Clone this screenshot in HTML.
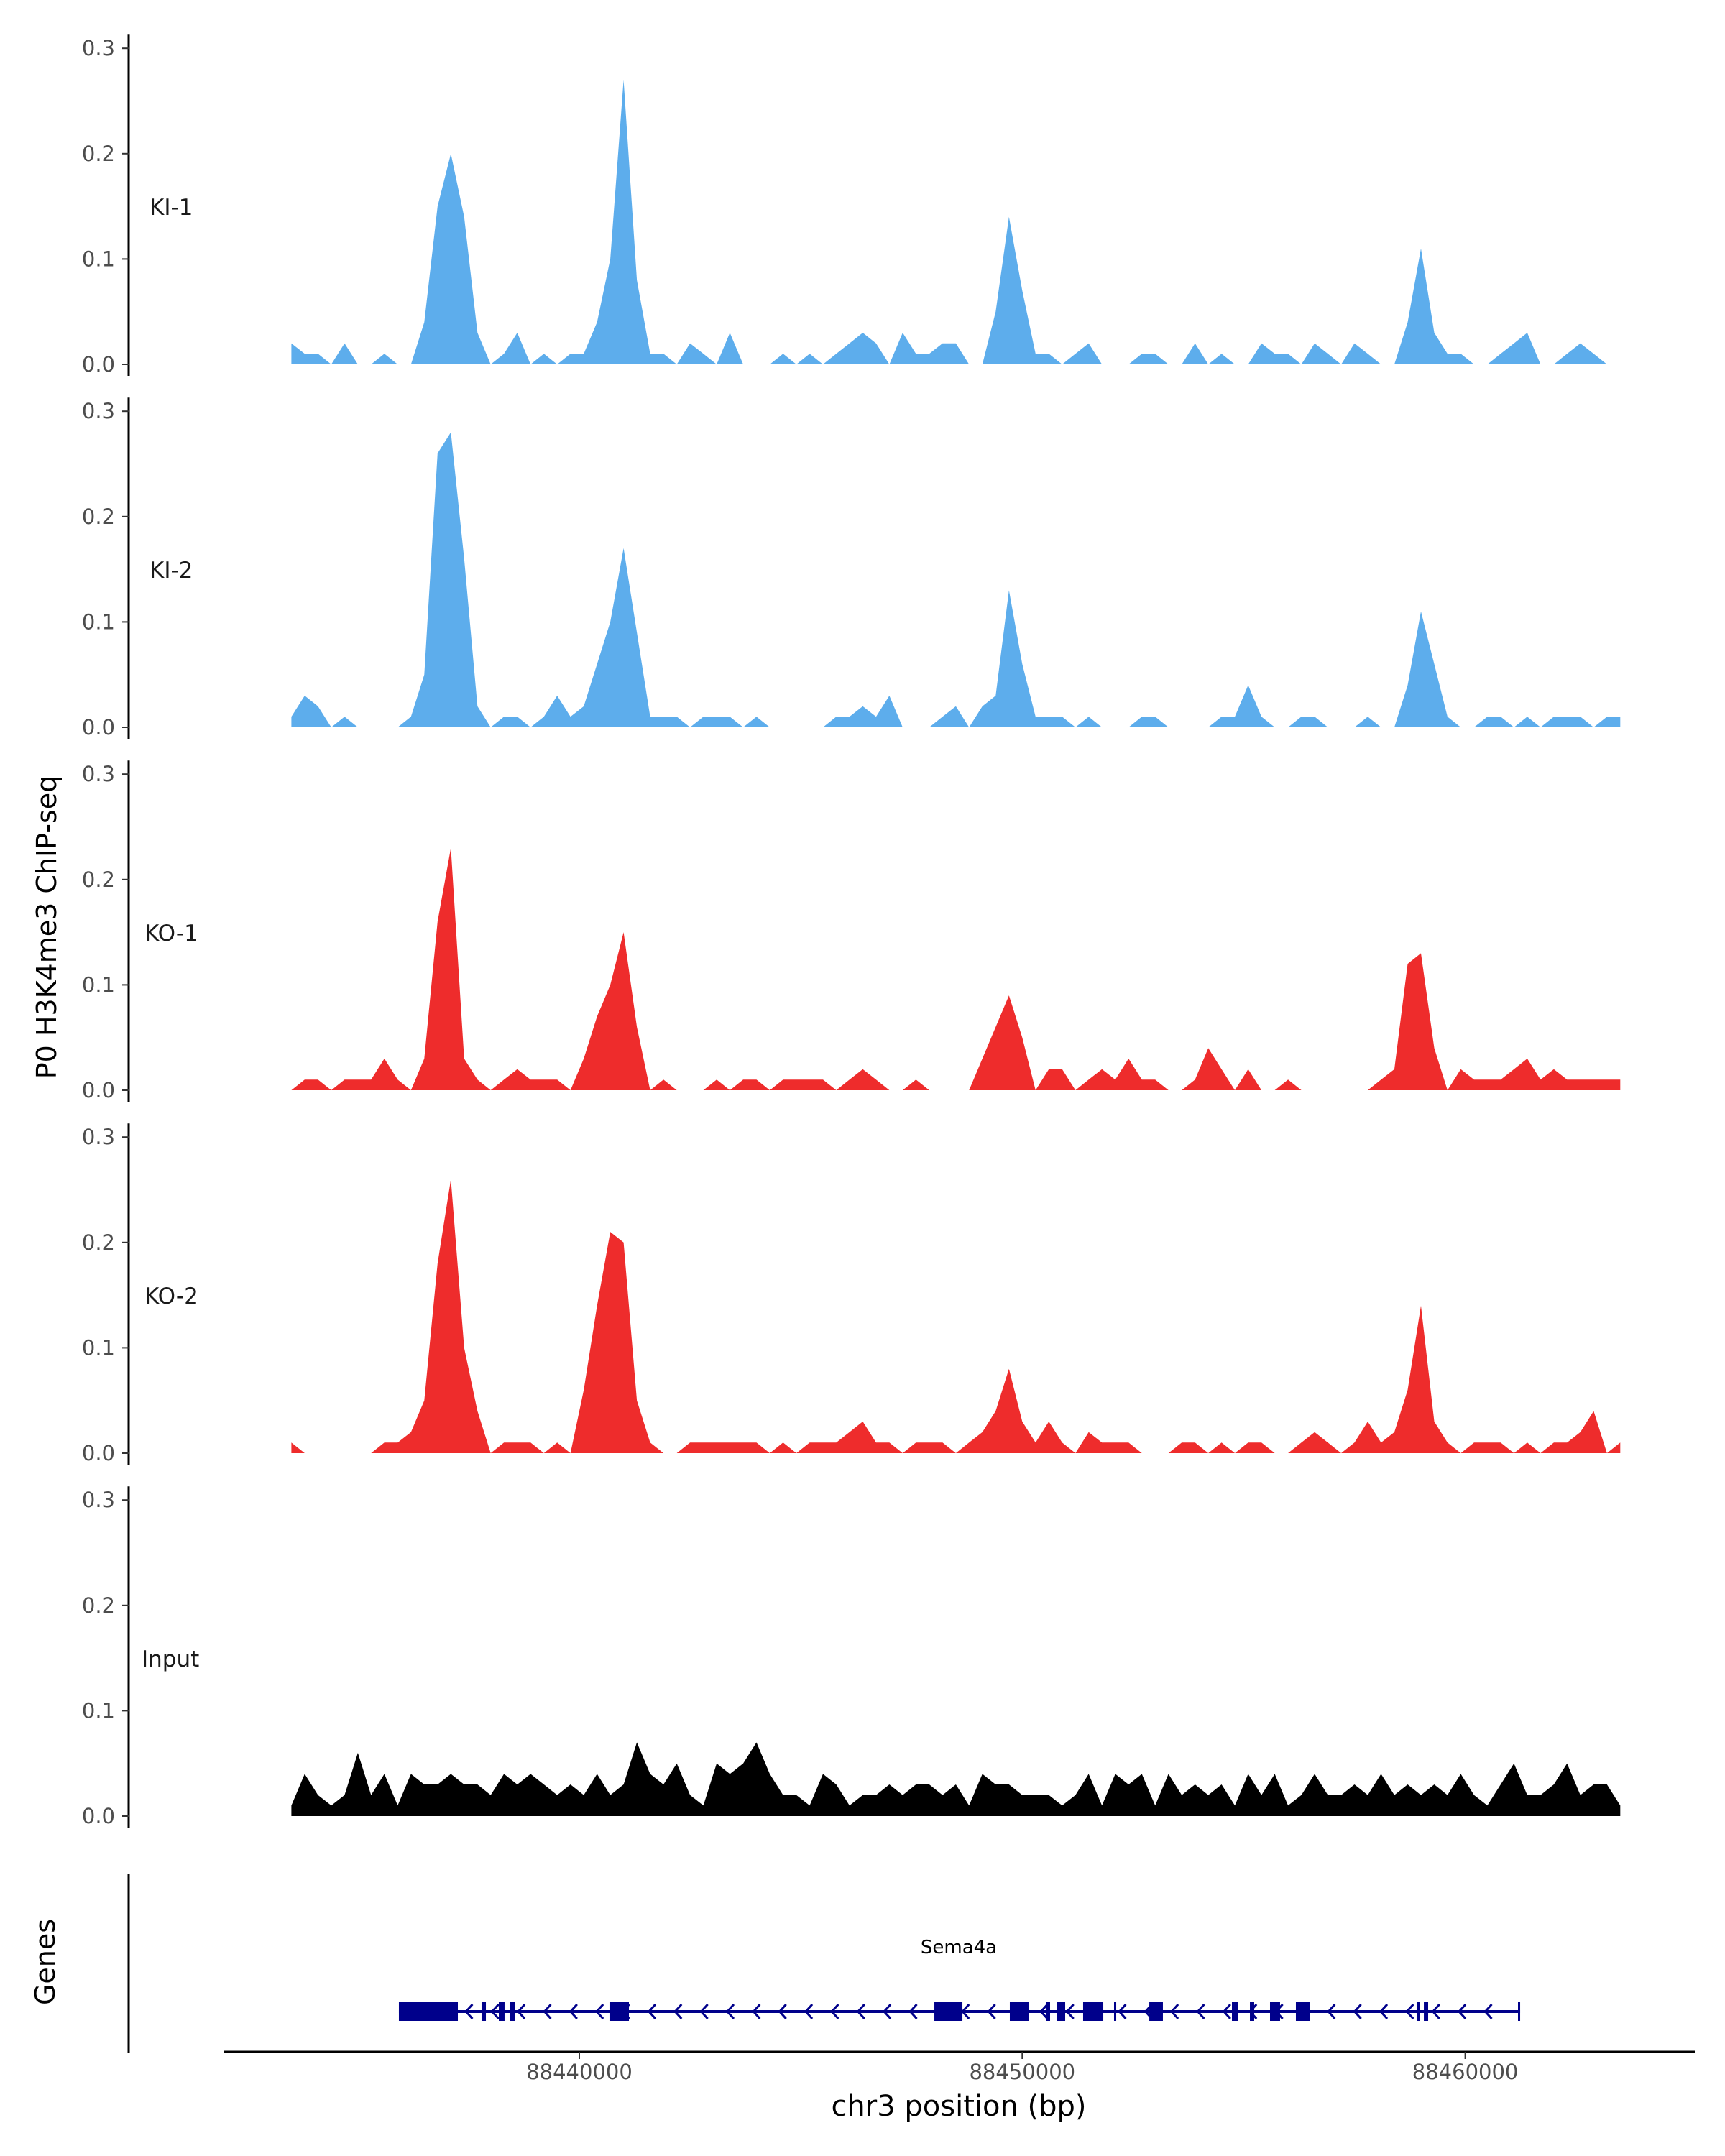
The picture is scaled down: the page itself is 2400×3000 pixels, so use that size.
<!DOCTYPE html>
<html><head><meta charset="utf-8">
<style>
html,body{margin:0;padding:0;background:#fff;}
svg{display:block;font-family:"DejaVu Sans","Liberation Sans",sans-serif;}
</style></head>
<body>
<svg id="chart" width="2400" height="3000" viewBox="0 0 2400 3000" xmlns="http://www.w3.org/2000/svg">
<rect width="2400" height="3000" fill="#fff"/>
<text x="0" y="0" transform="translate(78,1290) rotate(-90)" font-size="38" text-anchor="middle" fill="#000">P0 H3K4me3 ChIP-seq</text>
<text x="0" y="0" transform="translate(76,2730) rotate(-90)" font-size="38" text-anchor="middle" fill="#000">Genes</text>
<line x1="179" y1="2607" x2="179" y2="2856" stroke="#000" stroke-width="3"/>
<line x1="311" y1="2855" x2="2358" y2="2855" stroke="#000" stroke-width="3"/>
<text x="1334" y="2944" font-size="40" text-anchor="middle" fill="#000">chr3 position (bp)</text>
<g id="tracks"></g>
<g id="genes"></g>
<g id="xaxis"></g>
</svg>
<script>
const trackNames = ["KI-1","KI-2","KO-1","KO-2","Input"];
const trackColors = ["#5DADEC","#5DADEC","#EE2C2C","#EE2C2C","#000000"];
const startBp = 88433500;
const stepBp = 300;
const yTicks = [0,0.1,0.2,0.3];
const yTickLabels = ["0.0","0.1","0.2","0.3"];
const xTicks = [88440000,88450000,88460000];
const xTickLabels = ["88440000","88450000","88460000"];
// values in units of 0.01
const ki1 = [2,1,1,0,2,0,0,1,0,0,4,15,20,14,3,0,1,3,0,1,0,1,1,4,10,27,8,1,1,0,2,1,0,3,0,0,0,1,0,1,0,1,2,3,2,0,3,1,1,2,2,0,0,5,14,7,1,1,0,1,2,0,0,0,1,1,0,0,2,0,1,0,0,2,1,1,0,2,1,0,2,1,0,0,4,11,3,1,1,0,0,1,2,3,0,0,1,2,1,0,0];
const ki2 = [1,3,2,0,1,0,0,0,0,1,5,26,28,16,2,0,1,1,0,1,3,1,2,6,10,17,9,1,1,1,0,1,1,1,0,1,0,0,0,0,0,1,1,2,1,3,0,0,0,1,2,0,2,3,13,6,1,1,1,0,1,0,0,0,1,1,0,0,0,0,1,1,4,1,0,0,1,1,0,0,0,1,0,0,4,11,6,1,0,0,1,1,0,1,0,1,1,1,0,1,1];
const ko1 = [0,1,1,0,1,1,1,3,1,0,3,16,23,3,1,0,1,2,1,1,1,0,3,7,10,15,6,0,1,0,0,0,1,0,1,1,0,1,1,1,1,0,1,2,1,0,0,1,0,0,0,0,3,6,9,5,0,2,2,0,1,2,1,3,1,1,0,0,1,4,2,0,2,0,0,1,0,0,0,0,0,0,1,2,12,13,4,0,2,1,1,1,2,3,1,2,1,1,1,1,1];
const ko2 = [1,0,0,0,0,0,0,1,1,2,5,18,26,10,4,0,1,1,1,0,1,0,6,14,21,20,5,1,0,0,1,1,1,1,1,1,0,1,0,1,1,1,2,3,1,1,0,1,1,1,0,1,2,4,8,3,1,3,1,0,2,1,1,1,0,0,0,1,1,0,1,0,1,1,0,0,1,2,1,0,1,3,1,2,6,14,3,1,0,1,1,1,0,1,0,1,1,2,4,0,1];
const input = [1,4,2,1,2,6,2,4,1,4,3,3,4,3,3,2,4,3,4,3,2,3,2,4,2,3,7,4,3,5,2,1,5,4,5,7,4,2,2,1,4,3,1,2,2,3,2,3,3,2,3,1,4,3,3,2,2,2,1,2,4,1,4,3,4,1,4,2,3,2,3,1,4,2,4,1,2,4,2,2,3,2,4,2,3,2,3,2,4,2,1,3,5,2,2,3,5,2,3,3,1];
const series = [ki1,ki2,ko1,ko2,input];
const exonStarts = [88435927,88437793,88438183,88438426,88440681,88448016,88449719,88450547,88450774,88451374,88452072,88452868,88454733,88455139,88455593,88456177,88458903,88459066,88461191];
const exonEnds   = [88437258,88437891,88438312,88438540,88441120,88448649,88450141,88450628,88450969,88451829,88452121,88453175,88454879,88455236,88455820,88456486,88458984,88459163,88461240];
const geneStart = 88435927, geneEnd = 88461240;

const NS = "http://www.w3.org/2000/svg";
function xScale(bp){ return 806 + (bp - 88440000) * 0.06163; }
function yScale(k, v){ return 507 + k*505 - v * 1466; }
function mk(tag, attrs, parent){ const e = document.createElementNS(NS, tag); for (const a in attrs) e.setAttribute(a, attrs[a]); parent.appendChild(e); return e; }

const tracks = document.getElementById("tracks");
series.forEach((vals, k) => {
  const g = mk("g", {}, tracks);
  
  
  const ax = mk("line", {x1:179, y1:yScale(k,0.3)-19, x2:179, y2:yScale(k,0)+16, stroke:"#000","stroke-width":3}, g);
  
  
  yTicks.forEach((t, j) => {
    const y = yScale(k, t);
    const tk = mk("line", {x1:170, y1:y, x2:179, y2:y, stroke:"#333","stroke-width":2}, g);
    
    
    const tl = mk("text", {x:160, y:y+10, "font-size":29, "text-anchor":"end", fill:"#4d4d4d"}, g);
    tl.textContent = yTickLabels[j];
    
    
  });
  const lbl = mk("text", {x: k===4 ? 197 : (k>=2 ? 201 : 208), y: yScale(k,0) - 208, "font-size":31, fill:"#1a1a1a"}, g);
  lbl.textContent = trackNames[k];
  
  
  let d = "M" + xScale(startBp) + "," + yScale(k,0);
  vals.forEach((v, i) => { d += " L" + xScale(startBp + i*stepBp).toFixed(1) + "," + yScale(k, v/100).toFixed(1); });
  d += " L" + xScale(startBp + (vals.length-1)*stepBp).toFixed(1) + "," + yScale(k,0) + " Z";
  const area = mk("path", {d:d, fill:trackColors[k]}, g);
  
  
});

const genes = document.getElementById("genes");
const gy = 2799;
const gl = mk("line", {x1:xScale(geneStart), y1:gy, x2:xScale(geneEnd), y2:gy, stroke:"#00008B","stroke-width":4}, genes);


for (let bp = geneStart + 400; bp < geneEnd - 200; bp += 590) {
  const x = xScale(bp);
  const ar = mk("polyline", {points:(x+5)+","+(gy-10)+" "+(x-4)+","+gy+" "+(x+5)+","+(gy+10), fill:"none", stroke:"#00008B","stroke-width":3}, genes);
  
  
}
exonStarts.forEach((s, i) => {
  const x1 = xScale(s), x2 = xScale(exonEnds[i]);
  const r = mk("rect", {x:x1, y:gy-13, width:Math.max(3, x2-x1), height:26, fill:"#00008B"}, genes);
  
  
});
const gn = mk("text", {x:1334, y:2718, "font-size":26, "text-anchor":"middle", fill:"#000"}, genes);
gn.textContent = "Sema4a";



const xaxis = document.getElementById("xaxis");
xTicks.forEach((t, j) => {
  const x = xScale(t);
  const tk = mk("line", {x1:x, y1:2855, x2:x, y2:2865, stroke:"#333","stroke-width":2}, xaxis);
  
  
  const tl = mk("text", {x:x, y:2893, "font-size":29, "text-anchor":"middle", fill:"#4d4d4d"}, xaxis);
  tl.textContent = xTickLabels[j];
  
  
});
</script>
</body></html>
